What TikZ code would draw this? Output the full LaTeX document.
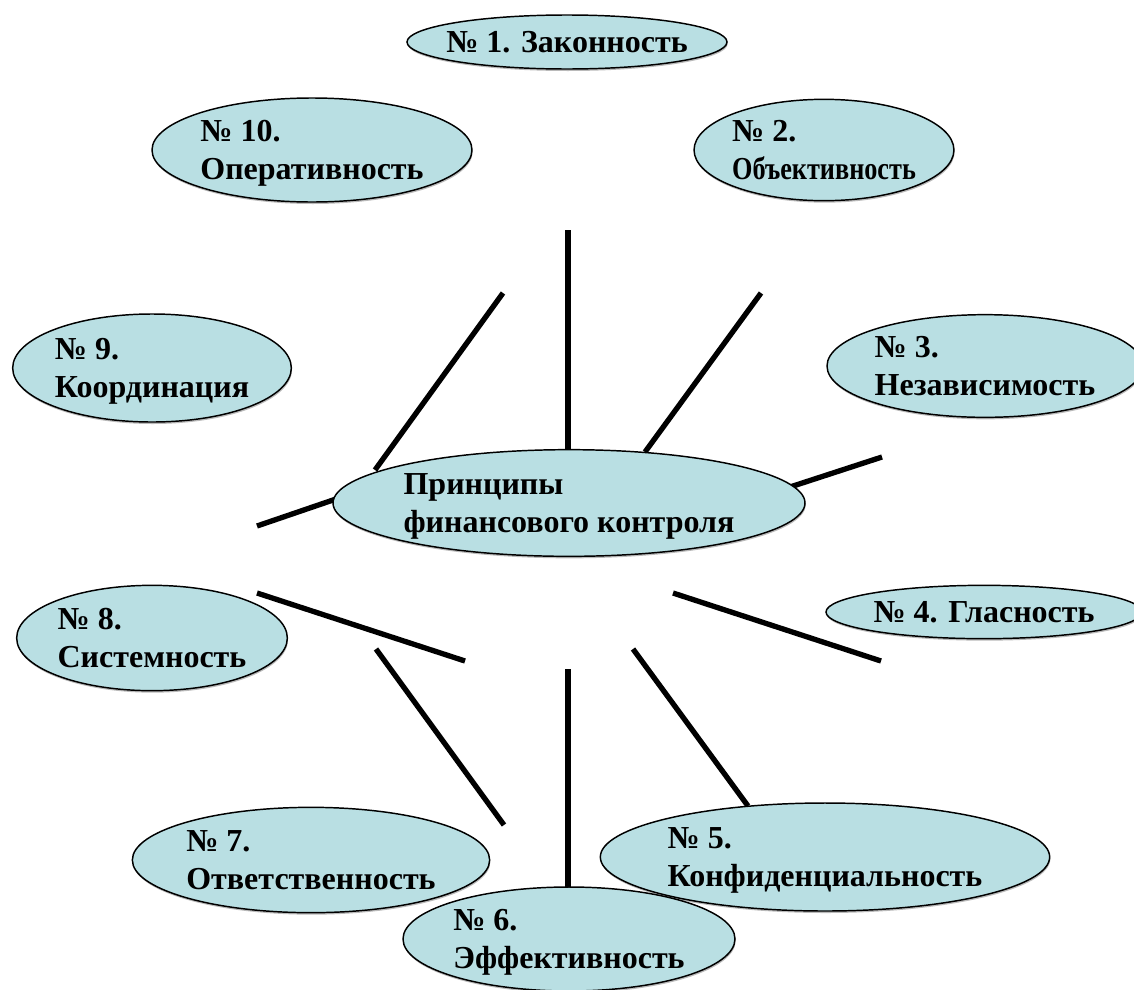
\documentclass[tikz,border=0pt]{standalone}
\usepackage{graphicx}
\usepackage{fontspec}
\setmainfont{Liberation Serif}
\usepackage{tikz}
\usetikzlibrary{shapes.geometric,shadows}
\definecolor{Pale}{HTML}{B9DFE3}

\begin{document}
\begin{tikzpicture}[x=0.75pt,y=-0.75pt,
  oval/.style={ellipse,draw=black,line width=1.1pt,fill=Pale,inner sep=0pt,align=left,
    font=\fontsize{24}{28}\selectfont\bfseries,text depth=0pt,
    drop shadow={shadow xshift=0.5pt,shadow yshift=-1.5pt,fill=black!45,opacity=0.6}},
  flat/.style={oval,inner xsep=-8pt},
  ray/.style={line width=4pt}
]
  \useasboundingbox (0,0) rectangle (1134,989);
  % spokes
  \coordinate (up1) at (568,230);  \coordinate (up2) at (568,452);
  \coordinate (ul1) at (503,293);  \coordinate (ul2) at (375,470);
  \coordinate (ur1) at (761,293);  \coordinate (ur2) at (645,452);
  \coordinate (re1) at (882,457);  \coordinate (re2) at (790,487);
  \coordinate (le1) at (257,526);  \coordinate (le2) at (336,499);
  \coordinate (ll1) at (257,593);  \coordinate (ll2) at (465,661);
  \coordinate (lr1) at (673,593);  \coordinate (lr2) at (881,661);
  \coordinate (dl1) at (376,649);  \coordinate (dl2) at (504,825);
  \coordinate (dr1) at (633,649);  \coordinate (dr2) at (748,806);
  \coordinate (dn1) at (568,669);  \coordinate (dn2) at (568,888);
  \foreach \a in {up,ul,ur,re,le,ll,lr,dl,dr,dn}
    \draw[ray] (\a1) -- (\a2);

  \node[oval,minimum width=354pt,minimum height=80pt] (core) at (569,503) {Принципы\\финансового контроля};
  \node[flat,minimum width=240pt,minimum height=40.5pt] (p1) at (567,42) {№ 1. Законность};
  \node[oval,minimum width=194pt,minimum height=76pt] (p2) at (824,150) {№ 2.\\\scalebox{0.82}[1]{Объективность}};
  \node[oval,minimum width=237pt,minimum height=77pt] (p3) at (985,366) {№ 3.\\Независимость};
  \node[flat,minimum width=237pt,minimum height=40pt] (p4) at (984,612) {№ 4. Гласность};
  \node[oval,minimum width=337pt,minimum height=81pt] (p5) at (825,857) {№ 5.\\Конфиденциальность};
  \node[oval,minimum width=268pt,minimum height=79pt] (p7) at (311,860) {№ 7.\\Ответственность};
  \node[oval,minimum width=203pt,minimum height=79pt] (p8) at (152,638) {№ 8.\\Системность};
  \node[oval,minimum width=209pt,minimum height=81pt] (p9) at (152,368) {№ 9.\\Координация};
  \node[oval,minimum width=240pt,minimum height=78pt] (p10) at (312,150) {№ 10.\\Оперативность};
  \node[oval,minimum width=249pt,minimum height=78pt] (p6) at (569,939) {№ 6.\\Эффективность};
\end{tikzpicture}
\end{document}
